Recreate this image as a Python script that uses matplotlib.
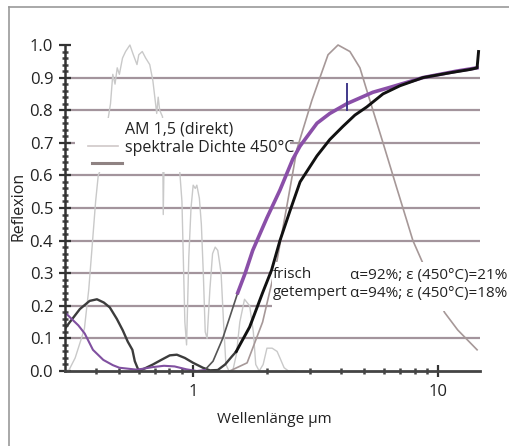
import matplotlib
matplotlib.use("Agg")
import matplotlib.pyplot as plt
from matplotlib.patches import Rectangle
from matplotlib.lines import Line2D
from matplotlib.ticker import FixedLocator, NullFormatter, MultipleLocator

plt.rcParams['font.family'] = ['Open Sans', 'DejaVu Sans']

# ---- data ----
am15_wl = [0.30, 0.31, 0.33, 0.35, 0.36, 0.375, 0.386, 0.40, 0.41, 0.42, 0.435, 0.449, 0.46, 0.47,
           0.48, 0.49, 0.50, 0.515, 0.53, 0.552, 0.57, 0.59, 0.60, 0.62, 0.64, 0.665, 0.685, 0.70,
           0.71, 0.72, 0.73, 0.75, 0.755, 0.765, 0.80, 0.85, 0.88, 0.90, 0.925, 0.94, 0.96, 0.98,
           1.00, 1.02, 1.035, 1.06, 1.08, 1.10, 1.12, 1.14, 1.17, 1.20, 1.23, 1.26, 1.30, 1.33,
           1.36, 1.40, 1.45, 1.50, 1.55, 1.62, 1.70, 1.76, 1.80, 1.86, 1.93, 2.0, 2.1, 2.2, 2.26,
           2.35, 2.45, 2.6]
am15_val = [0.0, 0.0, 0.04, 0.10, 0.13, 0.25, 0.37, 0.52, 0.60, 0.62, 0.70, 0.77, 0.82, 0.91,
            0.88, 0.93, 0.91, 0.96, 0.98, 1.0, 0.97, 0.94, 0.97, 0.98, 0.96, 0.94, 0.89, 0.83,
            0.79, 0.84, 0.80, 0.78, 0.48, 0.76, 0.72, 0.70, 0.62, 0.52, 0.15, 0.08, 0.35, 0.50,
            0.57, 0.56, 0.57, 0.53, 0.45, 0.30, 0.12, 0.10, 0.25, 0.36, 0.38, 0.37, 0.30, 0.15,
            0.02, 0.0, 0.0, 0.05, 0.15, 0.22, 0.20, 0.12, 0.02, 0.0, 0.02, 0.07, 0.07, 0.06, 0.04,
            0.01, 0.0, 0.0]

bb_wl = [1.41, 1.66, 1.92, 2.20, 2.43, 2.65, 3.05, 3.29, 3.55, 3.90, 4.36, 4.79, 5.26, 5.95,
         6.78, 7.45, 7.88, 8.66, 10.6, 12.0, 14.4]
bb_val = [0.0, 0.025, 0.15, 0.34, 0.52, 0.68, 0.83, 0.90, 0.97, 1.0, 0.98, 0.93, 0.83, 0.70,
          0.56, 0.46, 0.40, 0.33, 0.18, 0.126, 0.065]

frisch_vis_wl = [0.30, 0.314, 0.34, 0.361, 0.39, 0.43, 0.47, 0.50, 0.59, 0.685, 0.76, 0.84, 0.94,
                 1.035, 1.116]
frisch_vis_val = [0.18, 0.165, 0.14, 0.115, 0.065, 0.034, 0.018, 0.01, 0.004, 0.012, 0.016,
                  0.014, 0.005, 0.0, 0.003]
frisch_nir_wl = [1.116, 1.205, 1.32, 1.41, 1.52]
frisch_nir_val = [0.003, 0.03, 0.10, 0.165, 0.24]
frisch_ir_wl = [1.52, 1.63, 1.75, 2.00, 2.26, 2.55, 2.73, 3.20, 3.61, 4.24, 5.41, 6.35, 8.66,
                11.9, 14.4]
frisch_ir_val = [0.24, 0.30, 0.37, 0.47, 0.555, 0.65, 0.69, 0.76, 0.79, 0.82, 0.855, 0.87, 0.90,
                 0.92, 0.93]

temp_vis_wl = [0.30, 0.314, 0.345, 0.378, 0.405, 0.432, 0.457, 0.488, 0.516, 0.541, 0.565, 0.578,
               0.60, 0.635, 0.685, 0.745, 0.803, 0.858, 0.925, 1.0, 1.096, 1.17, 1.26, 1.35,
               1.44, 1.50]
temp_vis_val = [0.13, 0.15, 0.19, 0.215, 0.22, 0.21, 0.195, 0.16, 0.125, 0.09, 0.065, 0.03,
                0.0, 0.008, 0.02, 0.035, 0.048, 0.05, 0.04, 0.025, 0.01, 0.002, 0.003, 0.02,
                0.045, 0.06]
temp_ir_wl = [1.50, 1.55, 1.70, 1.92, 2.09, 2.26, 2.48, 2.73, 3.20, 3.61, 4.08, 4.57, 5.11,
              5.95, 6.98, 8.66, 11.2, 13.5, 14.4, 14.6]
temp_ir_val = [0.06, 0.08, 0.135, 0.24, 0.31, 0.40, 0.49, 0.58, 0.66, 0.71, 0.75, 0.785, 0.81,
               0.85, 0.875, 0.90, 0.915, 0.925, 0.93, 0.98]

spike_wl = [4.24, 4.24]
spike_val = [0.80, 0.88]

y_ticks = [0.0, 0.1, 0.2, 0.3, 0.4, 0.5, 0.6, 0.7, 0.8, 0.9, 1.0]
y_labels = ['0.0', '0.1', '0.2', '0.3', '0.4', '0.5', '0.6', '0.7', '0.8', '0.9', '1.0']
x_ticks = [1, 10]
x_labels = ['1', '10']
grid_levels = [0.1, 0.2, 0.3, 0.4, 0.5, 0.6, 0.7, 0.8, 0.9]

# ---- figure ----
fig = plt.figure(figsize=(5.10, 4.46), dpi=100)
fig.patch.set_facecolor('white')
# frame lines (top and left)
fig.add_artist(Line2D([9/510, 9/510], [0, 1 - 7/446], color='#9a9a9a', lw=1.2))
fig.add_artist(Line2D([9/510, 1], [1 - 7/446, 1 - 7/446], color='#9a9a9a', lw=1.2))

ax = fig.add_axes([65/510, 1 - 371/446, (480 - 65)/510, (371 - 45)/446])
ax.set_facecolor('none')
ax.set_xscale('log')
ax.set_xlim(0.3, 14.8)
ax.set_ylim(0, 1.0)

for g in grid_levels:
    ax.axhline(g, color='#a3949c', lw=1.6, zorder=1)

ax.plot(am15_wl, am15_val, color='#c9c9c9', lw=1.0, zorder=2, clip_on=False)
ax.plot(bb_wl, bb_val, color='#a69898', lw=1.2, zorder=2, clip_on=False)

ax.plot(temp_vis_wl, temp_vis_val, color='#3c3c3c', lw=1.7, zorder=4)
ax.plot(frisch_vis_wl, frisch_vis_val, color='#8050a0', lw=1.5, zorder=5)
ax.plot(frisch_nir_wl, frisch_nir_val, color='#555555', lw=1.2, zorder=4)
ax.plot(frisch_ir_wl, frisch_ir_val, color='#8a4fa8', lw=2.6, zorder=5)
ax.plot(temp_ir_wl, temp_ir_val, color='#111111', lw=2.1, zorder=6, clip_on=False)
ax.plot(spike_wl, spike_val, color='#40388a', lw=1.4, zorder=6)

# white boxes (legend and annotation)
ax.add_patch(Rectangle((75/510, 1 - 172/446), (290 - 75)/510, (172 - 118)/446,
                       transform=fig.transFigure, facecolor='white', edgecolor='none', zorder=3))
ax.add_patch(Rectangle((272/510, 1 - 311/446), (510 - 272)/510, (311 - 262)/446,
                       transform=fig.transFigure, facecolor='white', edgecolor='none', zorder=3,
                       clip_on=False))

# legend samples
fig.add_artist(Line2D([88/510, 118/510], [1 - 146/446] * 2, color='#cfc8c8', lw=1.2, zorder=7))
fig.add_artist(Line2D([92/510, 122/510], [1 - 163/446] * 2, color='#8f8282', lw=2.2, zorder=7))
fig.text(125/510, 1 - 130/446, 'AM 1,5 (direkt)', fontsize=11.5, va='center', ha='left',
         color='#222222', zorder=8)
fig.text(125/510, 1 - 148/446, 'spektrale Dichte 450°C', fontsize=11.5, va='center', ha='left',
         color='#222222', zorder=8)

fig.text(273/510, 1 - 275/446, 'frisch', fontsize=11, va='center', ha='left', color='#222222',
         zorder=8)
fig.text(273/510, 1 - 293/446, 'getempert', fontsize=11, va='center', ha='left', color='#222222',
         zorder=8)
fig.text(350/510, 1 - 275/446, 'α=92%; ε (450°C)=21%', fontsize=11, va='center', ha='left',
         color='#222222', zorder=8)
fig.text(350/510, 1 - 293/446, 'α=94%; ε (450°C)=18%', fontsize=11, va='center', ha='left',
         color='#222222', zorder=8)

# axes styling
for s in ['top', 'right']:
    ax.spines[s].set_visible(False)
ax.spines['left'].set_color('#333333')
ax.spines['left'].set_linewidth(1.8)
ax.spines['bottom'].set_color('#444444')
ax.spines['bottom'].set_linewidth(2.0)
ax.spines['left'].set_zorder(9)
ax.spines['bottom'].set_zorder(9)

ax.yaxis.set_major_locator(FixedLocator(y_ticks))
ax.set_yticklabels(y_labels)
ax.yaxis.set_minor_locator(MultipleLocator(0.02))
ax.xaxis.set_major_locator(FixedLocator(x_ticks))
ax.set_xticklabels(x_labels)
ax.xaxis.set_minor_locator(FixedLocator([0.4, 0.5, 0.6, 0.7, 0.8, 0.9, 2, 3, 4, 5, 6, 7, 8, 9]))
ax.xaxis.set_minor_formatter(NullFormatter())

ax.tick_params(axis='both', which='major', direction='inout', length=9, width=1.6,
               color='#333333', labelsize=12, labelcolor='#222222')
ax.tick_params(axis='y', which='major', pad=4)
ax.tick_params(axis='x', which='major', pad=5)
ax.tick_params(axis='both', which='minor', direction='inout', length=4, width=1.8,
               color='#444444')

ax.set_xlabel('Wellenlänge µm', fontsize=11, color='#222222', va='center')
ax.xaxis.set_label_coords(0.504, -0.150)
ax.set_ylabel('Reflexion', fontsize=11.5, color='#222222', va='center')
ax.yaxis.set_label_coords(-0.111, 0.506)

fig.savefig('out.png', dpi=100)
